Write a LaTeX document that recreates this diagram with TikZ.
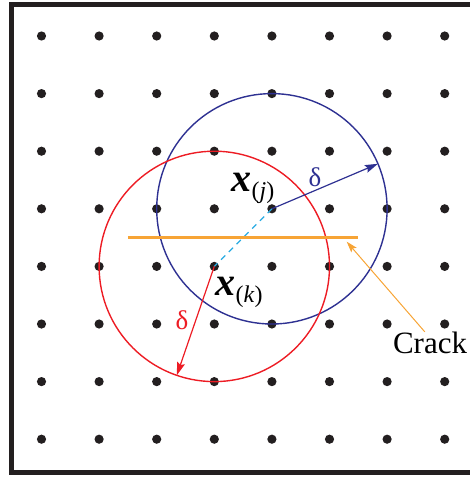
\documentclass[tikz,border=0pt]{standalone}
\usepackage{fontspec}
\setmainfont{Liberation Serif}
\usetikzlibrary{arrows.meta, calc}
\definecolor{dotblack}{HTML}{231F20}
\definecolor{hblue}{HTML}{2E3192}
\definecolor{hred}{HTML}{ED1C24}
\definecolor{bondcyan}{HTML}{29ABE2}
\definecolor{crackorange}{HTML}{F7A435}
\begin{document}
\begin{tikzpicture}[
    x=57.6pt, y=57.6pt,
    horizon/.style={line width=1.4pt},
    arrow/.style={-{Stealth[length=13pt, width=8pt, inset=2pt]}, line width=1.2pt},
    ptlabel/.style={inner sep=0pt, font=\fontsize{40}{40}\selectfont},
    dlabel/.style={inner sep=0pt, font=\fontsize{27}{27}\selectfont}
]
    \useasboundingbox (-0.7205, -7.65625) rectangle (7.4392, 0.625);

    % --- Frame ---
    \draw[dotblack, line width=5pt] (7.4392, 0.552) -- (-0.5295, 0.552) -- (-0.5295, -7.578) -- (7.4392, -7.578);

    % --- Material points ---
    \foreach \i in {0,...,7}
        \foreach \j in {0,...,7}
            \fill[dotblack] (\i, -\j) circle (4.6pt);

    \coordinate (xj) at (4, -3);
    \coordinate (xk) at (3, -4);

    % --- Horizons ---
    \draw[horizon, hblue] (xj) circle (2);
    \draw[horizon, hred] (xk) circle (2);

    % --- Bond ---
    \draw[bondcyan, dashed, line width=1.2pt, dash pattern=on 6pt off 5pt] (xj) -- (xk);

    % --- Crack ---
    \coordinate (crack_l) at (1.5, -3.5);
    \coordinate (crack_r) at (5.5, -3.5);
    \draw[crackorange, line width=3.6pt] (crack_l) -- (crack_r);

    % --- Horizon radii ---
    \coordinate (rj) at ($(xj)+(23:2)$);
    \coordinate (rk) at ($(xk)+(251:2)$);
    \draw[arrow, hblue] (xj) -- (rj);
    \draw[arrow, hred] (xk) -- (rk);

    % --- Labels ---
    \node[ptlabel] (lj) at (3.672, -2.639) {\textbf{\textit{x}}\raisebox{-7pt}{\fontsize{24}{24}\selectfont(\textit{j})}};
    \node[ptlabel] (lk) at (3.429, -4.444) {\textbf{\textit{x}}\raisebox{-7pt}{\fontsize{24}{24}\selectfont(\textit{k})}};
    \node[dlabel, text=hblue] (dj) at (4.748, -2.448) {δ};
    \node[dlabel, text=hred] (dk) at (2.439, -4.931) {δ};

    \node[inner sep=0pt, font=\fontsize{31}{31}\selectfont] (crack) at (6.745, -5.330) {Crack};
    \coordinate (crack_tip) at (5.299, -3.571);
    \draw[crackorange, line width=1pt, -{Stealth[length=11pt, width=7pt, inset=2pt]}] (crack.115) -- (crack_tip);
\end{tikzpicture}
\end{document}
